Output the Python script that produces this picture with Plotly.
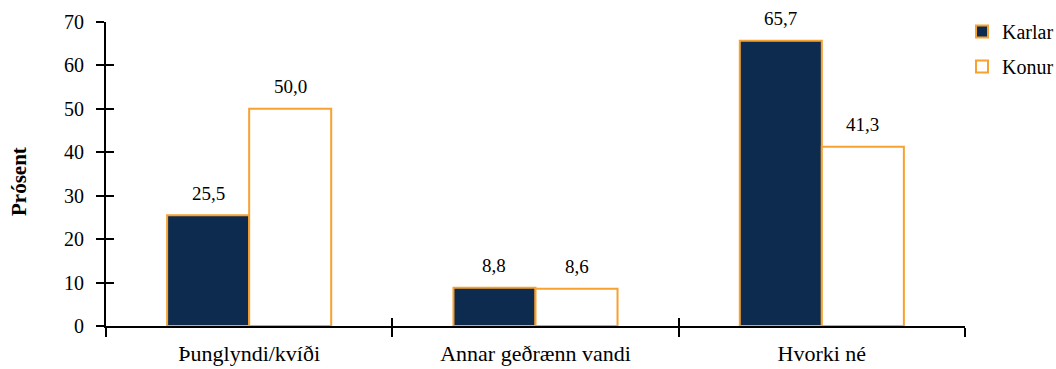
import plotly.graph_objects as go

# Category labels and series values (percent)
categories = ["Þunglyndi/kvíði", "Annar geðrænn vandi", "Hvorki né"]
karlar = [25.5, 8.8, 65.7]
konur = [50.0, 8.6, 41.3]
y_ticks = [0, 10, 20, 30, 40, 50, 60, 70]

NAVY = "#0C2B4E"
ORANGE = "#F7A130"
FONT = "Liberation Serif"
BARGAP = 0.427

fig = go.Figure()
fig.add_trace(go.Bar(
    name="Karlar", x=categories, y=karlar,
    marker=dict(color=NAVY, line=dict(color=ORANGE, width=2)),
    legendgroup="k",
))
fig.add_trace(go.Bar(
    name="Konur", x=categories, y=konur,
    marker=dict(color="white", line=dict(color=ORANGE, width=2)),
    legendgroup="w",
))

# Value labels above each bar
half = (1 - BARGAP) / 4
annotations = []
for i, (a, b) in enumerate(zip(karlar, konur)):
    for off, v in ((-half, a), (half, b)):
        annotations.append(dict(
            x=i + off, y=v, xref="x", yref="y",
            text=f"{v:.1f}".replace(".", ","),
            showarrow=False, yanchor="middle", yshift=22,
            font=dict(family=FONT, size=19, color="black"),
        ))

# Rotated axis title
annotations.append(dict(
    x=-0.1013, y=0.477, xref="paper", yref="paper",
    text="<b>Prósent</b>", textangle=-90, showarrow=False,
    xanchor="center", yanchor="middle",
    font=dict(family=FONT, size=21, color="black"),
))

# Invisible helper trace so the inner-tick overlay axes render
fig.add_trace(go.Scatter(
    x=[-0.5, 2.5], y=[0, 70], xaxis="x2", yaxis="y2",
    mode="markers", marker=dict(opacity=0), showlegend=False,
    hoverinfo="skip",
))

fig.update_layout(
    width=1056, height=369,
    margin=dict(l=106, r=91, t=22, b=43, autoexpand=False),
    paper_bgcolor="white", plot_bgcolor="white",
    barmode="group", bargap=BARGAP, bargroupgap=0,
    separators=", ",
    showlegend=True,
    legend=dict(
        x=962 / 1056, y=1 - 12 / 369, xanchor="left", yanchor="top",
        xref="container", yref="container",
        font=dict(family=FONT, size=20, color="black"),
        bgcolor="rgba(0,0,0,0)", tracegroupgap=6,
        itemclick=False,
    ),
    annotations=annotations,
    xaxis=dict(
        type="category", range=[-0.5, 2.5], automargin=False,
        showline=True, linecolor="black", linewidth=2,
        ticks="outside", ticklen=9, tickwidth=2, tickcolor="black",
        tickson="boundaries", showgrid=False, zeroline=False,
        tickfont=dict(family=FONT, size=22, color="black"),
        ticklabelstandoff=7,
    ),
    yaxis=dict(
        range=[0, 70], tickvals=y_ticks, automargin=False,
        showline=True, linecolor="black", linewidth=2,
        ticks="outside", ticklen=8, tickwidth=2, tickcolor="black",
        showgrid=False, zeroline=False,
        tickfont=dict(family=FONT, size=20, color="black"),
        ticklabelstandoff=8,
    ),
    xaxis2=dict(
        overlaying="x", range=[-0.5, 2.5], automargin=False,
        tickvals=[-0.5, 0.5, 1.5, 2.5], showticklabels=False,
        ticks="inside", ticklen=8, tickwidth=2, tickcolor="black",
        showline=False, showgrid=False, zeroline=False, anchor="y2",
    ),
    yaxis2=dict(
        overlaying="y", range=[0, 70], tickvals=y_ticks, automargin=False,
        showticklabels=False,
        ticks="inside", ticklen=8, tickwidth=2, tickcolor="black",
        showline=False, showgrid=False, zeroline=False, anchor="x2",
    ),
)

fig.write_html("out.html")
